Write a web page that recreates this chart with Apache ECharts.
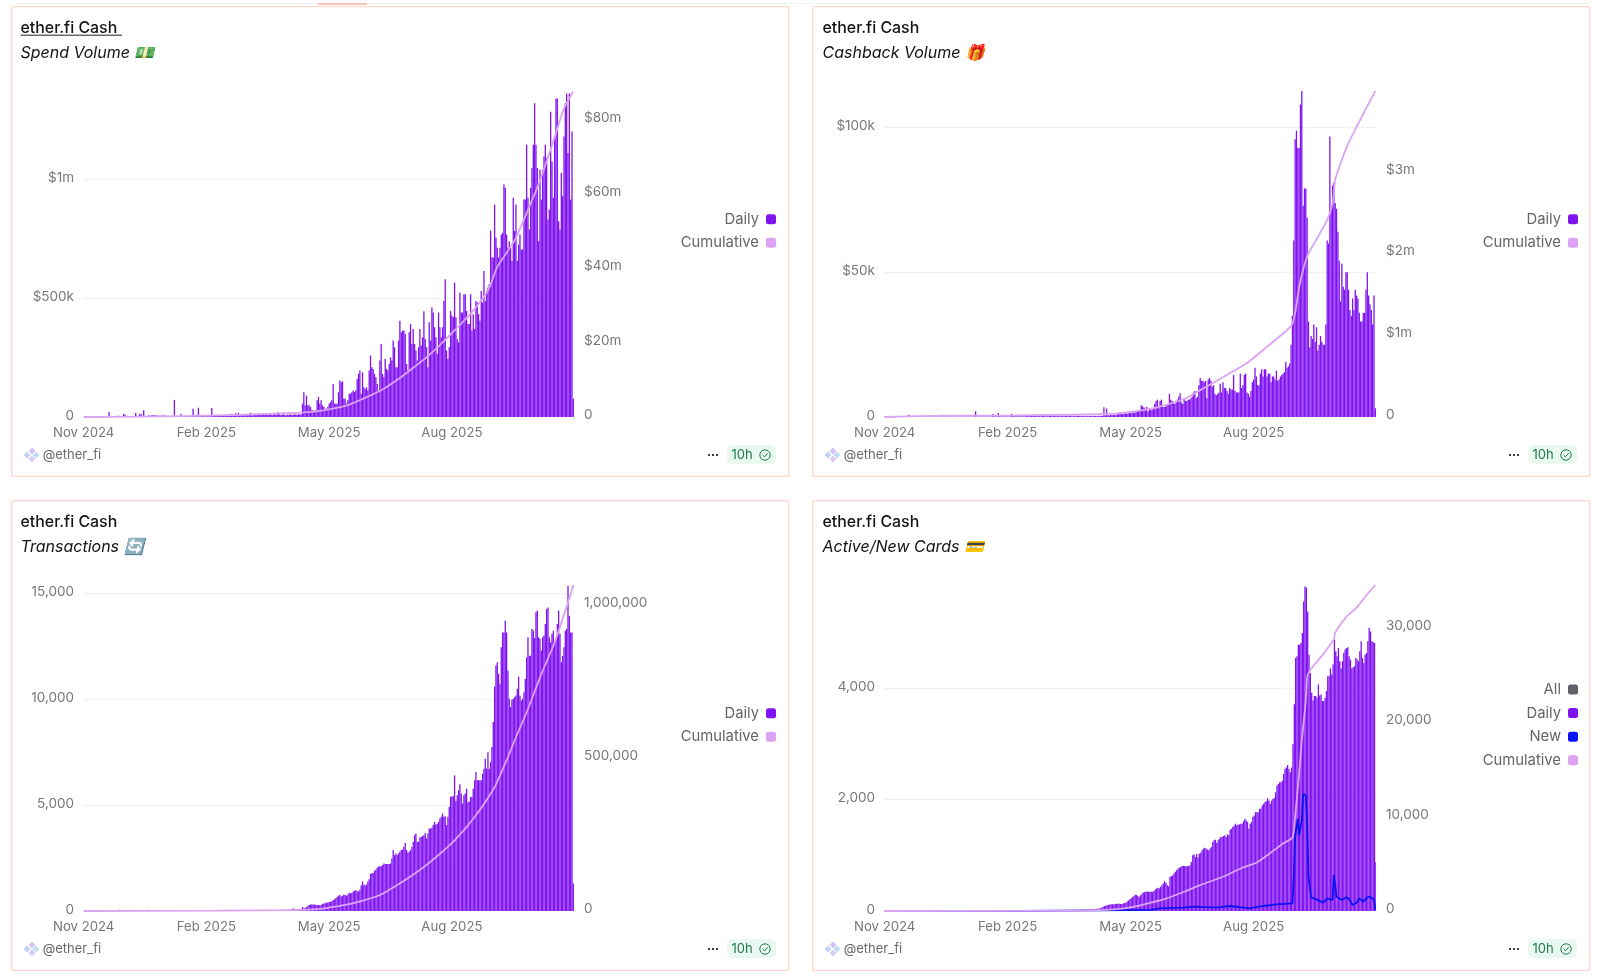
<!DOCTYPE html>
<html>
<head>
<meta charset="utf-8">
<style>html,body{margin:0;padding:0;background:#fff}#c{width:1600px;height:979px}</style>
<script src="https://cdn.jsdelivr.net/npm/echarts@6/dist/echarts.min.js"></script>
</head>
<body>
<div id="c"></div>
<script>
const DAYS = 368;
const tickLabels = ['Nov 2024','Feb 2025','May 2025','Aug 2025'];

// Spend volume, daily, $k
const spendDailyK = [
1,0,0,1,0,0,0,1,0,0,0,0,1,0,0,0,0,1,21,1,0,0,1,1,2,
6,4,1,2,14,8,3,1,1,1,0,1,2,17,3,5,12,14,5,28,2,1,4,
7,3,7,8,8,5,7,4,5,6,3,7,6,2,2,1,1,2,2,72,
2,1,2,3,14,3,2,2,2,2,3,2,3,35,3,2,3,39,3,3,4,3,3,3,4,3,3,38,5,4,4,5,
5,6,5,8,6,7,9,8,7,10,14,7,8,16,9,18,8,7,9,12,8,7,9,11,18,8,7,10,8,12,10,9,8,11,9,12,9,8,13,10,8,9,16,8,14,20,10,8,9,18,7,8,10,9,11,8,9,12,10,9,11,12,10,
56,104,49,90,49,49,42,28,28,25,28,70,84,56,70,49,42,35,35,42,56,63,70,139,56,56,56,104,153,146,150,77,77,56,70,98,98,104,111,105,111,160,181,195,98,188,125,118,125,111,195,258,209,202,181,167,139,111,237,
307,181,167,244,202,195,223,251,237,321,293,209,209,321,405,356,363,363,349,223,195,356,391,307,370,307,279,237,293,370,300,335,444,328,293,209,398,321,460,439,377,335,265,439,377,335,377,488,579,279,244,293,446,425,419,565,419,328,314,523,439,439,516,516,446,391,391,516,363,432,370,488,481,432,405,530,481,614,488,530,544,558,784,670,670,893,753,711,670,711,767,774,977,963,767,711,739,711,656,921,781,893,656,725,767,704,704,914,914,1144,921,788,963,1046,1144,1318,1144,1046,739,1039,914,1039,1095,1144,1088,830,872,1283,1074,921,1179,1339,1339,823,788,1025,928,1179,1318,1360,1109,1360,914,1200,77];
// Spend volume, cumulative, [day index, $m]
const spendCumM = [[0,0],[40,0.1],[80,0.3],[120,0.6],[163,1.2],[175,1.5],[198,3.2],[210,5],[223,7.2],[237,10.5],[248,13.5],[260,17],[273,21.5],[290,27.8],[303,34],[310,40.4],[323,47.5],[335,57.4],[343,64.6],[353,75.3],[360,83],[367,87.6]];

// Cashback volume, daily, $k
const cashbackDailyK = [
0.05,0,0,0.05,0,0,0.05,0,0,0,0.05,0,0,0.05,0,0,0,0.05,0.8,0.05,0,0.05,0,0,0.05,0.1,0.05,0,0.05,0.1,0.1,0.05,0,0.05,0,0.05,0.05,0.1,0.3,0.05,0.1,0.1,0.1,0.8,0.1,0.05,0.1,0.1,0.1,0.05,0.1,0.1,0.1,0.1,0.05,0.1,0.1,0.1,0.05,0.1,0.1,0.05,0.05,0.05,0.1,0.1,0.1,0.1,2,
0.15,0.1,0.1,0.15,0.2,0.15,0.1,0.15,0.1,0.1,0.15,0.15,1,0.2,0.15,0.2,1.4,0.2,0.15,0.2,0.2,0.15,0.2,0.2,0.2,0.2,1,0.25,0.2,0.25,0.25,
0.2,0.3,0.2,0.25,0.3,0.25,0.3,0.25,0.3,0.3,0.35,0.25,0.3,0.35,0.3,0.45,0.3,0.25,0.3,0.35,0.3,0.25,0.3,0.35,0.4,0.3,0.25,0.35,0.3,0.35,0.3,0.3,0.25,0.35,0.3,0.4,0.3,0.25,0.4,0.35,0.3,0.3,0.4,0.3,0.35,0.45,0.35,0.3,0.3,0.4,0.25,0.3,0.35,0.3,0.35,0.3,0.3,0.4,0.35,0.3,0.35,0.4,0.35,0.4,3.4,0.5,2.9,
0.6,0.5,0.7,0.6,0.8,0.6,0.7,0.9,1.0,1.7,1.2,0.9,1.1,1.4,1.0,1.2,1.7,1.3,1.5,1.7,1.3,1.9,2.1,2.2,2.4,4.0,3.6,3.3,2.8,3.5,1.8,
3,2.5,2.5,3,4.5,5.5,6,3,5.5,6,3.5,3.5,3.5,4,4.5,8,6,5.5,5,4.5,5,6,7,8.2,5,4.5,6.5,5.5,5.5,6,6,6.5,7,8.5,9,6.5,7,11,13.5,12.5,12.5,12,12.5,6.5,13,13.5,12.5,10.5,11,8,7.5,8,8.5,11.5,8.5,12,10,10,9,8,10,9.5,9.5,14.5,9,8.5,8.5,8.5,15,10,11,14.5,15,8.5,8,7,9,12,13,17,14,11,11,15,16.5,14,16.5,16.5,14,15,15,12,14,14,13,16,12.5,13,14,14.5,15,15.5,19,17,17.5,18.5,25,35,
61,96,99,93,93,108,113,73,79,79,69,33,24,28,27,32,26,31,23,25,28,26,25,25,32,61,60,97,72,80,81,74,72,64,54,40,53,45,44,50,50,44,37,35,41,37,44,42,41,36,33,33,36,36,44,50,42,39,37,32,42,3];
// Cashback volume, cumulative, [day index, $m]
const cashbackCumM = [[0,0],[22,0.01],[97,0.02],[172,0.04],[199,0.1],[224,0.22],[234,0.31],[249,0.45],[271,0.66],[286,0.86],[304,1.11],[307,1.27],[310,1.59],[314,1.86],[317,2.0],[324,2.2],[331,2.41],[335,2.61],[337,2.9],[341,3.1],[347,3.35],[355,3.61],[361,3.8],[367,3.985]];

// Transactions, daily
const txDaily = [
3,2,4,3,5,4,3,6,4,5,8,4,6,5,4,7,5,6,14,6,5,7,5,6,8,9,60,8,6,7,9,8,7,6,8,9,7,8,12,8,9,10,50,9,8,10,9,60,11,9,10,11,12,10,9,11,12,11,10,12,11,13,12,10,11,13,14,18,12,13,15,14,16,13,14,15,16,15,14,17,16,22,15,17,16,24,18,17,19,18,20,19,21,18,20,26,22,20,23,22,
24,26,23,28,25,27,26,29,27,30,32,28,30,34,31,35,32,30,33,36,34,32,35,38,40,36,34,38,37,40,42,39,41,44,42,46,43,45,48,46,50,48,47,52,50,55,52,50,54,56,58,55,60,58,62,64,
125,60,62,66,70,75,80,190,130,150,180,235,280,310,310,310,300,290,280,280,270,270,340,350,370,390,400,420,440,460,520,550,620,660,720,760,680,720,780,760,720,780,860,840,860,920,960,980,950,920,1000,1200,1400,1250,1200,1250,1400,1500,1750,1800,1800,1900,1950,2050,2100,
2120,2120,2170,2250,2220,2220,2220,2220,2250,2480,2880,2640,2720,2640,2720,2800,2880,2910,3030,3220,2880,2770,2800,2880,3030,3270,3580,3660,3270,3270,3470,3510,3540,3580,3690,3430,3660,3900,3900,3930,4060,4210,4090,4130,4210,4370,4450,4610,4450,4480,4060,4450,4920,5390,5420,5420,6410,5200,5470,5710,5990,5550,5080,5470,5550,5780,5160,5160,5390,5390,5780,6180,6570,6180,6180,6180,6180,6490,6730,7200,6730,7510,6730,7040,7750,8930,10610,11600,11760,11210,10740,12470,13170,13170,13720,13170,11370,10030,9640,9980,10030,10110,10190,10500,11080,10190,9950,10030,10340,10970,11990,12940,12070,12070,13330,13250,12910,14120,14200,12940,12860,12310,12940,13020,13570,14270,14350,12940,12700,13090,13250,12700,12860,13570,14200,13090,11760,12070,12470,13250,13330,15370,13960,13170,13170,1300];
// Transactions, cumulative, [day index, count]
const txCum = [[0,0],[100,1000],[156,3000],[175,6000],[198,22000],[210,35000],[223,54000],[235,85000],[248,122000],[260,161000],[278,231000],[293,307000],[308,405000],[318,503000],[323,557000],[333,660000],[343,774000],[353,877000],[365,1035000],[367,1065000]];

// Active cards, daily
const cardsDaily = [
1,1,2,1,1,2,1,2,1,1,2,2,1,2,2,1,2,2,3,2,2,1,2,2,3,2,3,2,2,3,2,3,2,3,3,2,3,3,4,3,3,4,3,3,4,3,4,4,3,4,4,4,5,4,4,5,4,5,5,4,5,5,5,6,5,5,6,6,7,5,6,6,6,7,6,6,7,7,6,7,7,8,7,7,8,8,8,7,8,9,8,8,9,9,8,9,9,10,9,10,
10,11,10,11,11,12,11,12,12,13,12,13,13,14,14,13,14,15,15,14,15,16,16,15,16,17,17,16,17,18,18,19,18,19,20,19,20,21,21,20,21,22,22,23,22,23,24,24,25,24,25,26,26,27,26,28,
30,30,35,40,40,45,50,60,75,90,95,105,110,115,120,120,120,125,130,130,130,125,125,135,145,150,170,190,210,230,250,270,290,290,270,250,280,310,330,340,345,350,345,
345,345,345,357,387,405,417,405,434,464,494,535,506,464,446,613,625,643,672,702,732,762,774,791,809,809,809,803,803,809,821,881,1000,1017,970,1029,958,1029,1047,1089,1119,1136,1119,1101,1089,1119,1148,1238,1267,1279,1220,1267,1297,1327,1327,1345,1357,1327,1374,1357,1458,1476,1505,1535,1565,1535,1553,1553,1565,1565,1612,1654,1624,1595,1476,1565,1595,1684,1714,1773,1773,1773,1833,1833,1892,1922,1952,1969,2023,1981,1922,1981,2011,2029,2130,2249,2279,2309,2309,2338,2457,2547,2576,2618,2547,2487,2576,2993,3707,4540,4570,4778,4778,4808,4986,5551,5819,5801,5373,4599,4272,3915,3778,3856,3856,3826,4064,3868,3885,3766,3766,3826,3945,4213,4213,4349,4242,4421,4867,4659,4570,4718,4480,4349,4480,4629,4689,4718,4730,4570,4510,4349,4373,4391,4540,4510,4480,4659,4837,4540,4451,4599,4629,4837,5075,5016,4837,4825,4808,881];
// New cards, daily, [day index, count]
const cardsNew = [[0,2],[100,4],[160,10],[180,15],[199,20],[206,48],[223,60],[231,77],[248,60],[258,90],[273,48],[283,90],[293,120],[305,137],[306,613],[307,1330],[309,1654],[310,1357],[312,1624],[313,2100],[315,2070],[316,1565],[317,613],[319,244],[323,208],[328,150],[331,226],[335,196],[336,643],[338,256],[342,196],[345,244],[347,226],[350,107],[353,149],[355,226],[358,167],[361,244],[363,256],[366,208],[367,20]];
// Cards, cumulative, [day index, count]
const cardsCum = [[0,0],[150,50],[172,180],[185,400],[199,880],[211,1340],[224,2040],[236,2740],[253,3620],[268,4600],[278,5100],[288,6080],[298,7140],[305,7770],[307,9950],[310,14520],[312,18040],[315,22260],[316,24720],[318,25420],[328,27180],[336,28760],[337,29470],[346,31220],[353,32100],[361,33510],[367,34490]];

const PURPLE='#8014f1', LIGHT='#dca3f2', BLUE='#0a14f5', GREY='#5f6068', AXIS='#777777', LEG='#666666';
const categories = Array.from({length:DAYS},(_,i)=>{const d=new Date(Date.UTC(2024,10,1+i));return d.toISOString().slice(0,10);});
const fit = a => { const r=a.slice(-DAYS); return new Array(DAYS-r.length).fill(0).concat(r); };
const sparse = (p,k=1) => { const r=new Array(DAYS).fill(null); p.forEach(([i,v])=>r[i]=v*k); return r; };
const money = v => v===0?'0':v>=1e6?'$'+(v/1e6)+'m':'$'+(v/1e3)+'k';
const comma = v => v.toLocaleString('en-US');

const panels = [
 {sub:'Spend Volume 💵',x:0,y:0,daily:fit(spendDailyK).map(v=>v*1000),cum:sparse(spendCumM,1e6),lMax:1370000,lInt:500000,rMax:87700000,rInt:20000000,fmt:money,legend:['Daily','Cumulative'],legTop:211.7,w:491,ul:true},
 {sub:'Cashback Volume 🎁',x:801,y:0,daily:fit(cashbackDailyK).map(v=>v*1000),cum:sparse(cashbackCumM,1e6),lMax:112700,lInt:50000,rMax:3985000,rInt:1000000,fmt:money,legend:['Daily','Cumulative'],legTop:211.7,w:492},
 {sub:'Transactions 🔄',x:0,y:494,daily:fit(txDaily),cum:sparse(txCum),lMax:15410,lInt:5000,rMax:1065000,rInt:500000,fmt:comma,legend:['Daily','Cumulative'],legTop:705.7,w:491},
 {sub:'Active/New Cards 💳',x:801,y:494,daily:fit(cardsDaily),cum:sparse(cardsCum),lMax:5848,lInt:2000,rMax:34490,rInt:10000,fmt:comma,legend:['All','Daily','New','Cumulative'],legTop:682,w:492,extra:sparse(cardsNew)}
];

const option={animation:false,backgroundColor:'#fff',textStyle:{fontFamily:'Inter'},title:[],grid:[],xAxis:[],yAxis:[],legend:[],series:[],graphic:{elements:[]}};
const G=option.graphic.elements;
G.push({type:'line',silent:true,shape:{x1:18,y1:3.7,x2:1590,y2:3.7},style:{stroke:'#eeeeee',lineWidth:1}});
G.push({type:'line',silent:true,shape:{x1:318,y1:4,x2:367,y2:4},style:{stroke:'#f58a84',lineWidth:1.2}});

panels.forEach((p,k)=>{
  const gl=83+p.x, gt=91+p.y, gh=326, tx=k%2?1:0;
  G.push({type:'rect',silent:true,z:-1,shape:{x:11.7+p.x,y:6.7+p.y,width:777,height:469.7,r:2},style:{fill:'#fff',stroke:'#fdd6d0',lineWidth:1.3}});
  option.title.push({text:'ether.fi Cash',subtext:p.sub,left:20.5+p.x+tx,top:19.5+p.y,padding:0,itemGap:7,
    textStyle:{fontFamily:'Inter',fontSize:15.9,fontWeight:500,color:'#141414',lineHeight:18},
    subtextStyle:{fontFamily:'Inter, "Noto Sans"',fontSize:16,fontStyle:'italic',color:'#141414',lineHeight:18}});
  if(p.ul) G.push({type:'line',silent:true,shape:{x1:20.5,y1:35.2,x2:122,y2:35.2},style:{stroke:'#222',lineWidth:1}});
  option.grid.push({left:gl,top:gt,width:p.w,height:gh,containLabel:false});
  option.xAxis.push({type:'category',gridIndex:k,data:categories,boundaryGap:true,axisLine:{show:false},axisTick:{show:false},splitLine:{show:false},
    axisLabel:{interval:91,margin:10,color:AXIS,fontSize:13.2,fontFamily:'Inter',hideOverlap:false,formatter:(v)=>tickLabels[categories.indexOf(v)/92]||''}});
  option.yAxis.push({type:'value',gridIndex:k,min:0,max:p.lMax,interval:p.lInt,position:'left',axisLine:{show:false},axisTick:{show:false},
    splitLine:{show:true,showMaxLine:false,showMinLine:false,lineStyle:{color:'#f1f1f1',width:1.4}},
    axisLabel:{margin:9,color:AXIS,fontSize:13.5,fontFamily:'Inter',showMaxLabel:false,verticalAlign:'bottom',lineHeight:3,formatter:p.fmt}});
  option.yAxis.push({type:'value',gridIndex:k,min:0,max:p.rMax,interval:p.rInt,position:'right',axisLine:{show:false},axisTick:{show:false},splitLine:{show:false},
    axisLabel:{margin:10,color:AXIS,fontSize:13.5,fontFamily:'Inter',showMaxLabel:false,verticalAlign:'bottom',lineHeight:4,formatter:p.fmt}});
  option.legend.push({data:p.legend,orient:'vertical',align:'right',right:1600-(776+p.x+(k%2?1:0)),top:p.legTop,itemWidth:10,itemHeight:10,itemGap:8.6,icon:'roundRect',selectedMode:false,padding:0,
    textStyle:{color:LEG,fontSize:14.8,fontFamily:'Inter',padding:[0,2,0,0]}});
  if(p.extra) option.series.push({name:'All',type:'bar',xAxisIndex:k,yAxisIndex:2*k,data:[],itemStyle:{color:GREY}});
  option.series.push({name:'Daily',type:'bar',xAxisIndex:k,yAxisIndex:2*k,data:p.daily,barWidth:1.3,itemStyle:{color:PURPLE},z:2});
  if(p.extra) option.series.push({name:'New',type:'line',xAxisIndex:k,yAxisIndex:2*k,data:p.extra,connectNulls:true,showSymbol:false,symbol:'none',lineStyle:{color:BLUE,width:1.8},itemStyle:{color:BLUE},z:3});
  option.series.push({name:'Cumulative',type:'line',xAxisIndex:k,yAxisIndex:2*k+1,data:p.cum,connectNulls:true,showSymbol:false,symbol:'none',smooth:0.2,lineStyle:{color:LIGHT,width:1.8},itemStyle:{color:LIGHT},z:4});
  // footer
  const fy=455+p.y, lx=31+p.x;
  [[-4,0,'#b9c8f5'],[1,-4,'#c9b8f2'],[5,0,'#b6d6f7'],[1,4,'#d4c2f5']].forEach(([dx,dy,c])=>{
    G.push({type:'polygon',silent:true,shape:{points:[[lx+dx,fy+dy-3.4],[lx+dx+3.4,fy+dy],[lx+dx,fy+dy+3.4],[lx+dx-3.4,fy+dy]]},style:{fill:c,opacity:.85}});
  });
  G.push({type:'text',silent:true,style:{x:42.7+p.x,y:fy,text:'@ether_fi',font:'13px Inter',fill:'#6b6b6b',verticalAlign:'middle'}});
  const bY=445+p.y;
  [-4,0,4].forEach(d=>G.push({type:'circle',silent:true,shape:{cx:713+p.x+d,cy:fy,r:1.1},style:{fill:'#111'}}));
  G.push({type:'rect',silent:true,shape:{x:727+p.x,y:bY,width:49,height:19,r:5},style:{fill:'#e9f8f0'}});
  G.push({type:'text',silent:true,style:{x:731.5+p.x,y:fy,text:'10h',font:'13px Inter',fill:'#1f7a4f',verticalAlign:'middle'}});
  G.push({type:'circle',silent:true,shape:{cx:765+p.x,cy:fy,r:5.2},style:{fill:'none',stroke:'#1f7a4f',lineWidth:1}});
  G.push({type:'polyline',silent:true,shape:{points:[[762.6+p.x,fy],[764.5+p.x,fy+1.9],[767.6+p.x,fy-1.8]]},style:{fill:'none',stroke:'#1f7a4f',lineWidth:1}});
});

const chart=echarts.init(document.getElementById('c'),null,{renderer:'canvas',width:1600,height:979});
chart.setOption(option);
</script>
</body>
</html>
